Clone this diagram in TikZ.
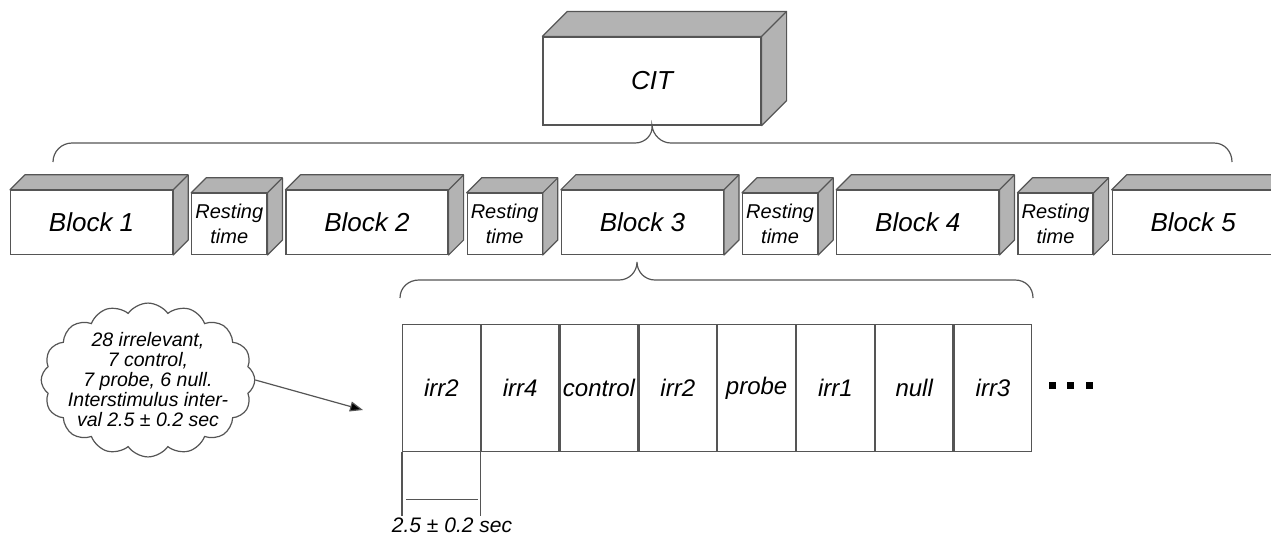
\documentclass[tikz,border=0pt]{standalone}
\usepackage{fontspec}
\setmainfont{Liberation Sans}
\usetikzlibrary{positioning,shapes.symbols,arrows.meta}

\definecolor{linecol}{HTML}{555555}
\definecolor{facecol}{HTML}{B3B3B3}

\tikzset{
  box/.style={draw=linecol, line width=1.2pt, fill=white, inner sep=0pt,
    font=\itshape\fontsize{26}{30}\selectfont},
  block/.style={box, minimum width=162pt, minimum height=64pt},
  rest/.style={box, minimum width=75pt, minimum height=61pt, align=center,
    font=\itshape\fontsize{20}{25}\selectfont},
  stim/.style={box, minimum width=77.6pt, minimum height=127pt,
    font=\itshape\fontsize{24}{28}\selectfont},
  face/.style={draw=linecol, line width=1.2pt, fill=facecol, line join=round},
  brc/.style={draw=linecol, line width=1.2pt},
}

% top and side faces of a box node: name, depth
\newcommand{\boxfaces}[2]{%
  \path[face] (#1.north west) -- ++(#2,-#2) -| ([shift={(#2,-#2)}]#1.south east)
    -- (#1.south east) -- (#1.north east) -- cycle;
  \draw[linecol, line width=1.2pt] (#1.north east) -- ++(#2,-#2);
}

\begin{document}
\begin{tikzpicture}[x=1pt, y=-1pt]
  \useasboundingbox (0,0) rectangle (1271,536);

  % study
  \node[box, minimum width=218pt, minimum height=88pt] (cit) at (652,81) {CIT};
  \boxfaces{cit}{25}

  % blocks and rests
  \node[block, anchor=south west] (b1) at (10,255) {Block 1};
  \node[rest, right=18pt of b1.south east, anchor=south west] (r1) {Resting\\time};
  \node[block, right=18pt of r1.south east, anchor=south west] (b2) {Block 2};
  \node[rest, right=18pt of b2.south east, anchor=south west] (r2) {Resting\\time};
  \node[block, right=18pt of r2.south east, anchor=south west] (b3) {Block 3};
  \node[rest, right=18pt of b3.south east, anchor=south west] (r3) {Resting\\time};
  \node[block, right=18pt of r3.south east, anchor=south west] (b4) {Block 4};
  \node[rest, right=18pt of b4.south east, anchor=south west] (r4) {Resting\\time};
  \node[block, right=18pt of r4.south east, anchor=south west] (b5) {Block 5};
  \boxfaces{b1}{15}
  \boxfaces{r1}{15}
  \boxfaces{b2}{15}
  \boxfaces{r2}{15}
  \boxfaces{b3}{15}
  \boxfaces{r3}{15}
  \boxfaces{b4}{15}
  \boxfaces{r4}{15}
  \boxfaces{b5}{15}

  % braces
  \draw[brc] (53,162) .. controls (53,151.5) and (61.5,143) .. (72,143)
    -- (635,143) .. controls (645,143) and (653,135) .. (cit.south)
    .. controls (653,135) and (661,143) .. (671,143)
    -- (1214,143) .. controls (1224.5,143) and (1232,151.5) .. (1232,162);
  \draw[brc] (400,298) .. controls (400,287.5) and (408.5,280) .. (419,280)
    -- (619,280) .. controls (629,280) and (637,272) .. (637,262)
    .. controls (637,272) and (645,280) .. (655,280)
    -- (1015,280) .. controls (1025.5,280) and (1033,287.5) .. (1033,298);

  % trials
  \node[stim, anchor=north west] (s1) at (402,324) {irr2};
  \node[stim, right=0pt of s1] (s2) {irr4};
  \node[stim, right=0pt of s2] (s3) {control};
  \node[stim, right=0pt of s3] (s4) {irr2};
  \node[stim, right=0pt of s4] (s5) {probe};
  \node[stim, right=0pt of s5] (s6) {irr1};
  \node[stim, right=0pt of s6] (s7) {null};
  \node[stim, right=0pt of s7] (s8) {irr3};
  \fill[black] (1049,382) rectangle ++(7,7);
  \fill[black] (1067,382) rectangle ++(7,7);
  \fill[black] (1086,382) rectangle ++(7,7);

  % duration of one trial
  \draw[brc] (s1.south west) -- ++(0,64);
  \draw[brc] (s1.south east) -- ++(0,64);
  \draw[brc] ([shift={(4,47)}]s1.south west) -- ([shift={(-3,47)}]s1.south east);
  \node[font=\itshape\fontsize{21}{24}\selectfont] (dur) at (452,525) {2.5 ± 0.2 sec};

  % note
  \node[cloud, draw=linecol, line width=1.2pt, fill=white, cloud puffs=16,
    cloud puff arc=110, aspect=1.5, inner xsep=-8pt, inner ysep=-8pt,
    align=center, font=\itshape\fontsize{19.5}{20}\selectfont]
    (note) at (148,380) {28 irrelevant,\\7 control,\\7 probe, 6 null.\\Interstimulus inter-\\val 2.5 ± 0.2 sec};
  \coordinate (tip) at (363,410);
  \draw[linecol, line width=1.2pt, -{Triangle[length=13pt, width=10pt, fill=black]}] (note.east) -- (tip);
\end{tikzpicture}
\end{document}
